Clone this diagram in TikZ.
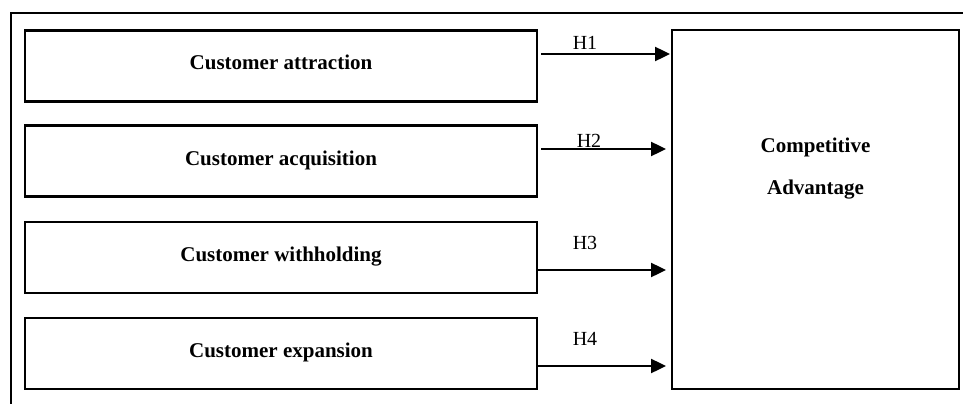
\documentclass[tikz,border=0pt]{standalone}
\usepackage{fontspec}
\setmainfont{Liberation Serif}
\usetikzlibrary{arrows.meta}
\begin{document}
\begin{tikzpicture}[x=1pt,y=-1pt,
  frame/.style={line width=2.4pt},
  factor/.style={draw,line width=2.4pt,minimum width=512pt,minimum height=71pt,inner sep=0pt},
  label/.style={font=\fontsize{21}{21}\selectfont\bfseries,anchor=base},
  hyp/.style={font=\fontsize{20}{20}\selectfont,anchor=base},
  link/.style={line width=2.4pt,-{Triangle[length=15pt,width=14pt]}}]
  \useasboundingbox (0,0) rectangle (963,404);
  % outer frame (top and left edges)
  \draw[frame] (963,13) -- (11,13) -- (11,404);
  % antecedent boxes
  \node[factor] (b1) at (281,66) {};
  \node[factor] (b2) at (281,161) {};
  \node[factor] (b3) at (281,257.5) {};
  \node[factor] (b4) at (281,353.5) {};
  \node[label] at (281,70) {Customer attraction};
  \node[label] at (281,165) {Customer acquisition};
  \node[label] at (281,261) {Customer withholding};
  \node[label] at (281,357) {Customer expansion};
  % outcome box
  \node[draw,line width=2.4pt,minimum width=287pt,minimum height=359pt,inner sep=0pt] (ca) at (815.5,209.5) {};
  \node[label] at (815.5,152) {Competitive};
  \node[label] at (815.5,194) {Advantage};
  % hypothesis arrows
  \coordinate (s1) at (541,54);  \coordinate (e1) at (670,54);
  \coordinate (s2) at (541,149); \coordinate (e2) at (666,149);
  \coordinate (s3) at (537,270); \coordinate (e3) at (666,270);
  \coordinate (s4) at (537,366); \coordinate (e4) at (666,366);
  \draw[link] (s1) -- (e1);
  \draw[link] (s2) -- (e2);
  \draw[link] (s3) -- (e3);
  \draw[link] (s4) -- (e4);
  \node[hyp] at (585,50) {H1};
  \node[hyp] at (589,147) {H2};
  \node[hyp] at (585,249) {H3};
  \node[hyp] at (585,345) {H4};
\end{tikzpicture}
\end{document}
